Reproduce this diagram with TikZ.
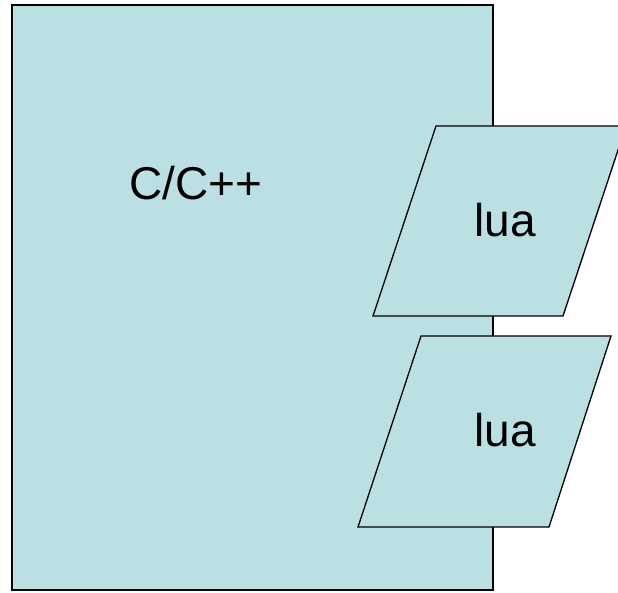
\documentclass[tikz,border=0pt]{standalone}
\usepackage{fontspec}
\setmainfont{Liberation Sans}
\definecolor{boxfill}{HTML}{BBE0E3}
\begin{document}
\begin{tikzpicture}[x=1pt,y=-1pt,
  shapebox/.style={draw=black,fill=boxfill,line width=1.3pt,line join=miter},
  lbl/.style={font=\fontsize{46}{46}\selectfont,inner sep=0pt}]
\useasboundingbox (0,0) rectangle (618,592);
\clip (0,0) rectangle (618,592);
\draw[shapebox] (12,5) rectangle (493,590);
\node[lbl] (cpp) at (196,183) {C/C++};
\draw[shapebox] (436,126) -- (626,126) -- (563,316) -- (373,316) -- cycle;
\node[lbl] (lua1) at (505,220) {lua};
\draw[shapebox] (421,336) -- (611,336) -- (549,527) -- (358,527) -- cycle;
\node[lbl] (lua2) at (505,430) {lua};
\end{tikzpicture}
\end{document}
